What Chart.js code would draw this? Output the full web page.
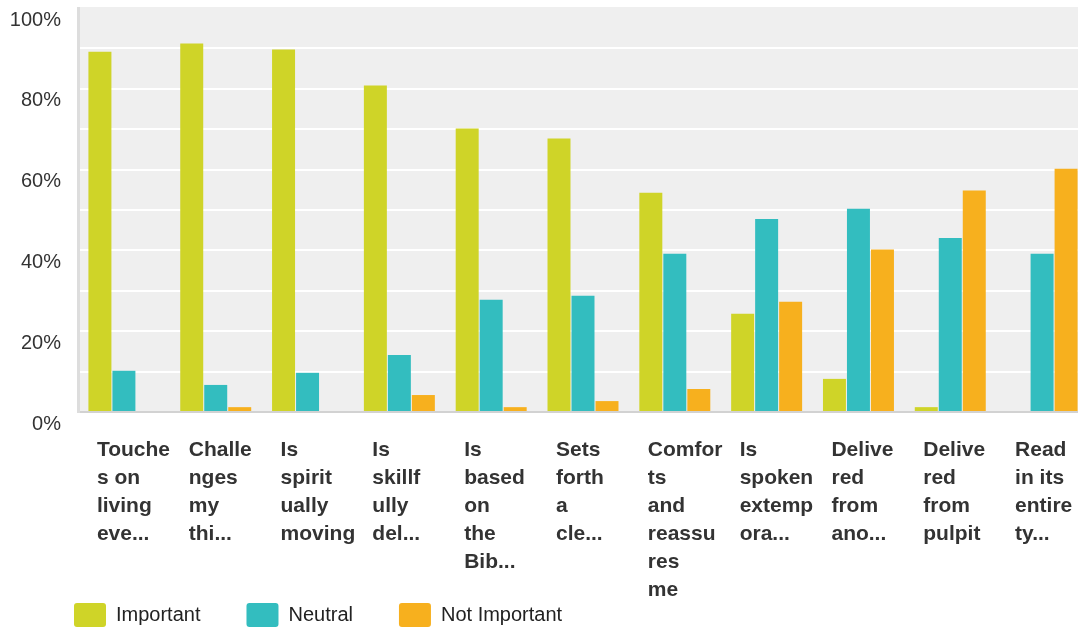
<!DOCTYPE html>
<html>
<head>
<meta charset="utf-8">
<script src="https://cdn.jsdelivr.net/npm/chart.js@4/dist/chart.umd.min.js"></script>
<style>
  html, body { margin: 0; padding: 0; background: #fff; overflow: hidden; }
  #wrap { width: 1090px; height: 687px; }
</style>
</head>
<body>
<div id="wrap"><canvas id="chart"></canvas></div>
<script>
// Kategorien (mehrzeilig, wie umbrochen angezeigt)
var categories = [
  ['Touche', 's on', 'living', 'eve...'],
  ['Challe', 'nges', 'my', 'thi...'],
  ['Is', 'spirit', 'ually', 'moving'],
  ['Is', 'skillf', 'ully', 'del...'],
  ['Is', 'based', 'on', 'the', 'Bib...'],
  ['Sets', 'forth', 'a', 'cle...'],
  ['Comfor', 'ts', 'and', 'reassu', 'res', 'me'],
  ['Is', 'spoken', 'extemp', 'ora...'],
  ['Delive', 'red', 'from', 'ano...'],
  ['Delive', 'red', 'from', 'pulpit'],
  ['Read', 'in its', 'entire', 'ty...']
];

// Werte in Prozent
var important    = [89.2, 91.2, 89.7, 80.8, 70.2, 67.7, 54.3, 24.3, 8.2, 1.2, 0];
var neutral      = [10.2, 6.7, 9.7, 14.1, 27.8, 28.8, 39.2, 47.8, 50.3, 43.1, 39.2];
var notImportant = [0, 1.2, 0, 4.2, 1.2, 2.7, 5.7, 27.3, 40.2, 54.8, 60.2];

var seriesNames = ['Important', 'Neutral', 'Not Important'];
var seriesColors = ['#cfd428', '#33bdbf', '#f7b01e'];

var yMin = 0, yMax = 100, yStep = 10, yLabelStep = 20;

var FONT = '"Liberation Sans", Arial, sans-serif';

// grauer Hintergrund der Zeichenfläche
var plotBackground = {
  id: 'plotBackground',
  beforeDraw: function(chart) {
    var a = chart.chartArea, ctx = chart.ctx;
    ctx.save();
    ctx.fillStyle = '#efefef';
    ctx.fillRect(a.left, a.top - 1, a.right - a.left, a.bottom - a.top + 1);
    ctx.restore();
  }
};

// Legende etwas einrücken und unter die Achsenbeschriftung ziehen
var legendPlacement = {
  id: 'legendPlacement',
  afterLayout: function(chart) {
    var lg = chart.legend;
    if (!lg) return;
    var h = lg.bottom - lg.top;
    lg.left = 28;
    lg.top = chart.chartArea.bottom + 145;
    lg.bottom = lg.top + h;
  }
};

var ctx = document.getElementById('chart').getContext('2d');
new Chart(ctx, {
  type: 'bar',
  data: {
    labels: categories,
    datasets: [
      { label: seriesNames[0], data: important, backgroundColor: seriesColors[0] },
      { label: seriesNames[1], data: neutral, backgroundColor: seriesColors[1] },
      { label: seriesNames[2], data: notImportant, backgroundColor: seriesColors[2] }
    ]
  },
  options: {
    responsive: true,
    maintainAspectRatio: false,
    animation: false,
    layout: { padding: { top: 8, left: 0, right: 2, bottom: 0 } },
    datasets: {
      bar: { categoryPercentage: 0.784, barPercentage: 0.958, borderWidth: 0 }
    },
    plugins: {
      tooltip: { enabled: false },
      legend: {
        position: 'bottom',
        align: 'start',
        labels: {
          boxWidth: 32,
          boxHeight: 24,
          useBorderRadius: true,
          borderRadius: 3,
          padding: 46,
          color: '#222',
          font: { family: FONT, size: 20 }
        }
      }
    },
    scales: {
      x: {
        grid: { display: false, drawTicks: false },
        border: { display: true, color: '#d2d2d2', width: 2 },
        ticks: {
          autoSkip: false,
          maxRotation: 0,
          minRotation: 0,
          align: 'start',
          labelOffset: -27,
          padding: 24,
          color: '#333',
          font: { family: FONT, size: 21, weight: 'bold', lineHeight: '28px' }
        },
        afterFit: function(s) {
          s.height = 195;
          s.paddingLeft = 0;
          s.paddingRight = 0;
        }
      },
      y: {
        min: yMin,
        max: yMax,
        grid: {
          drawTicks: false,
          lineWidth: 2,
          color: function(c) {
            return (c.tick && (c.tick.value === yMax || c.tick.value === yMin)) ? 'rgba(0,0,0,0)' : '#ffffff';
          }
        },
        border: { display: true, color: '#dddddd', width: 3 },
        ticks: {
          stepSize: yStep,
          autoSkip: false,
          padding: 17,
          labelOffset: 12,
          color: '#333',
          font: { family: FONT, size: 20 },
          callback: function(v) { return v % yLabelStep === 0 ? v + '%' : ''; }
        },
        afterFit: function(s) {
          s.width = 78;
          s.paddingTop = 0;
          s.paddingBottom = 0;
        }
      }
    }
  },
  plugins: [plotBackground, legendPlacement]
});
</script>
</body>
</html>
